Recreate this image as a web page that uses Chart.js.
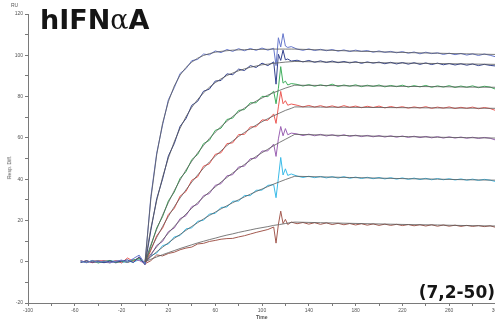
<!DOCTYPE html>
<html>
<head>
<meta charset="utf-8">
<script src="https://cdn.jsdelivr.net/npm/chart.js@4.4.1/dist/chart.umd.min.js"></script>
<style>
  html, body { margin: 0; padding: 0; overflow: hidden; background: #fff; }
  #wrap { position: absolute; left: 0; top: 0; width: 510px; height: 325px; }
  .lbl { position: absolute; white-space: nowrap; line-height: 1; }
  .small { font-family: 'Liberation Sans', Arial, sans-serif; font-size: 5px; color: #555; }
  .big { font-family: 'DejaVu Sans', Verdana, sans-serif; font-weight: bold; color: #151515; }
</style>
</head>
<body>
<div id="wrap"><canvas id="chart"></canvas></div>
<div class="lbl big" style="left:40px; top:6px; font-size:27px;">hIFN<span style="font-family:'DejaVu Serif', serif; font-weight:normal;">α</span>A</div>
<div class="lbl big" style="right:0px; top:284px; font-size:17px;">(7,2-50)</div>
<div class="lbl small" style="left:11px; top:3px;">RU</div>
<div class="lbl small" style="left:-2px; top:165px; transform:rotate(-90deg);">Resp. Diff.</div>
<div class="lbl small" style="left:256px; top:315px; font-weight:bold;">Time</div>
<script>
// sensorgram samples (s)
const times = [-55, -50, -45, -40, -35, -30, -25, -20, -15, -10, -5, 0,
  5, 10, 15, 20, 25, 30, 35, 40, 45, 50, 55, 60, 65, 70, 75, 80, 85, 90, 95, 100, 105, 110,
  112, 114, 116, 118, 120, 122, 125,
  130, 135, 140, 145, 150, 155, 160, 165, 170, 175, 180, 185, 190, 195, 200, 205, 210, 215,
  220, 225, 230, 235, 240, 245, 250, 255, 260, 265, 270, 275, 280, 285, 290, 295, 300];

const respA = [0.3, -0.5, 0.6, -0.2, 0.4, -0.6, 0.2, 0.8, -0.3, 1.5, 3.2, -1.0,
  31.5, 52.6, 66.2, 78.5, 84.3, 91.2, 93.5, 97.4, 98.0, 100.6, 100.2, 102.1, 101.3, 102.8, 101.9, 103.2, 102.2, 103.3, 102.4, 103.5, 102.5, 103.4,
  95.0, 108.5, 104.0, 110.5, 104.5, 103.8, 104.2,
  103.0, 102.4, 103.1, 102.3, 102.9, 102.2, 102.8, 102.0, 102.6, 101.8, 102.5, 101.9, 102.3, 101.5, 102.1, 101.4, 101.9, 101.2,
  101.8, 101.0, 101.6, 100.7, 101.5, 100.8, 101.2, 100.4, 101.0, 100.3, 100.9, 100.1, 100.7, 99.9, 100.6, 100.0, 99.2];
const respB = [-0.4, 0.5, -0.3, 0.2, -0.5, 0.4, -0.2, 0.3, 0.9, -0.4, 2.4, -1.5,
  15.2, 30.5, 40.0, 51.3, 57.2, 65.6, 69.3, 75.8, 77.7, 82.6, 83.6, 87.5, 87.8, 91.0, 90.6, 93.3, 92.6, 95.0, 94.1, 96.2, 95.0, 96.8,
  86.0, 100.5, 97.5, 102.5, 97.8, 98.2, 97.2,
  97.6, 96.8, 97.5, 96.6, 97.3, 96.5, 97.2, 96.4, 97.0, 96.3, 96.9, 96.1, 96.8, 96.2, 96.7, 95.9, 96.6, 95.8,
  96.5, 95.7, 96.4, 95.6, 96.3, 95.5, 96.2, 95.4, 96.0, 95.3, 95.9, 95.2, 95.8, 95.0, 95.6, 95.1, 94.8];
const respC = [0.2, -0.3, 0.5, -0.6, 0.1, 0.6, -0.4, 0.2, -0.2, 0.8, 1.5, -0.8,
  7.5, 16.4, 21.8, 29.5, 33.7, 40.4, 43.6, 49.5, 51.9, 57.2, 58.8, 63.6, 64.7, 68.9, 69.6, 73.3, 73.7, 77.0, 77.0, 80.1, 80.0, 82.6,
  76.5, 84.0, 94.5, 86.5, 87.5, 85.6, 86.3,
  85.9, 85.1, 85.8, 85.0, 85.7, 85.1, 86.0, 84.9, 85.6, 85.0, 85.7, 84.8, 85.5, 84.9, 85.6, 84.7, 85.4, 84.8,
  85.5, 84.6, 85.3, 84.7, 85.4, 84.5, 85.2, 84.6, 85.3, 84.4, 85.1, 84.5, 85.2, 84.3, 85.0, 84.6, 83.5];
const respD = [-0.2, 0.4, -0.5, 0.3, 0.6, -0.3, 0.5, -0.6, 1.8, 0.2, 2.0, -1.2,
  5.5, 12.6, 16.2, 22.9, 25.8, 31.8, 34.0, 39.5, 41.1, 46.3, 47.4, 52.0, 52.8, 57.2, 57.6, 61.6, 61.7, 65.3, 65.4, 68.7, 68.5, 71.6,
  67.0, 75.0, 82.5, 76.5, 78.0, 75.8, 76.4,
  75.8, 75.0, 75.7, 74.9, 75.6, 74.8, 75.5, 74.7, 75.6, 74.8, 75.4, 74.6, 75.3, 74.7, 75.4, 74.5, 75.2, 74.6,
  75.1, 74.4, 75.0, 74.5, 75.1, 74.3, 74.9, 74.4, 75.0, 74.2, 74.8, 74.3, 74.9, 74.1, 74.7, 74.2, 73.2];
const respE = [0.4, -0.2, 0.3, -0.5, 0.2, 0.5, -0.6, 0.4, -0.1, 1.2, 0.6, -0.9,
  3.0, 7.9, 9.8, 14.6, 16.3, 20.9, 22.3, 26.7, 27.8, 32.0, 33.0, 37.0, 37.8, 41.6, 42.2, 45.9, 46.3, 49.9, 50.2, 53.6, 53.7, 57.0,
  51.0, 59.5, 65.5, 61.0, 64.5, 61.5, 62.3,
  61.9, 61.1, 61.8, 61.0, 61.7, 60.9, 61.5, 60.8, 61.5, 60.7, 61.3, 60.6, 61.2, 60.5, 61.1, 60.4, 61.0, 60.3,
  60.9, 60.2, 60.8, 60.1, 60.7, 60.0, 60.6, 59.9, 60.5, 59.9, 60.4, 59.8, 60.3, 59.7, 60.2, 59.8, 58.9];
const respF = [-0.3, 0.3, -0.4, 0.5, -0.2, 0.2, 0.4, -0.5, 0.3, -0.2, 1.0, -0.6,
  2.9, 4.2, 7.8, 8.6, 12.0, 12.7, 15.9, 16.4, 19.6, 20.1, 23.1, 23.4, 26.3, 26.5, 29.3, 29.4, 32.1, 32.0, 34.6, 34.7, 37.0, 37.3,
  31.0, 40.5, 50.5, 42.0, 45.0, 41.8, 42.5,
  41.5, 40.8, 41.4, 40.7, 41.3, 40.6, 41.2, 40.5, 41.2, 40.4, 41.0, 40.3, 40.9, 40.2, 40.8, 40.1, 40.7, 40.0,
  40.6, 39.9, 40.5, 39.8, 40.4, 39.7, 40.3, 39.7, 40.2, 39.6, 40.1, 39.5, 40.0, 39.4, 39.9, 39.5, 38.8];
const respG = [0.5, -0.4, 0.2, 0.6, -0.3, -0.5, 0.3, 0.5, -0.4, 0.6, 1.8, -1.0,
  0.5, 3.3, 2.8, 4.0, 4.6, 5.8, 6.6, 7.1, 8.6, 8.9, 9.8, 10.3, 10.9, 11.2, 11.3, 12.0, 12.6, 13.4, 14.2, 14.9, 15.6, 16.8,
  9.0, 18.0, 24.5, 18.5, 20.5, 18.0, 19.2,
  18.4, 19.0, 18.2, 18.9, 18.1, 18.8, 18.0, 18.6, 17.9, 18.5, 17.8, 18.4, 17.7, 18.3, 17.6, 18.2, 17.6, 18.1,
  17.5, 18.0, 17.4, 17.9, 17.3, 17.9, 17.2, 17.8, 17.2, 17.7, 17.1, 17.6, 17.1, 17.5, 17.0, 17.4, 16.6];

// fitted 1:1 curves
const fitTimes = [0, 5, 10, 15, 20, 25, 30, 35, 40, 45, 50, 55, 60, 65, 70, 75, 80, 85, 90, 95,
  100, 105, 110, 115, 120, 125, 128, 150, 175, 200, 225, 250, 275, 300];
const fitA = [0, 30.4, 51.8, 67.0, 77.6, 85.1, 90.4, 94.1, 96.7, 98.6, 99.9, 100.8, 101.5, 101.9, 102.2, 102.5, 102.6, 102.7, 102.8, 102.8,
  102.9, 102.9, 103.0, 103.0, 103.0, 103.0, 103.0, 102.6, 102.1, 101.7, 101.3, 101.0, 100.7, 100.4];
const fitB = [0, 16.2, 29.6, 40.9, 50.3, 58.1, 64.7, 70.2, 74.8, 78.6, 81.8, 84.5, 86.7, 88.6, 90.2, 91.4, 92.5, 93.4, 94.2, 94.8,
  95.4, 95.7, 96.1, 96.4, 96.7, 96.9, 97.0, 96.8, 96.6, 96.4, 96.2, 96.0, 95.8, 95.6];
const fitC = [0, 8.2, 15.7, 22.5, 28.7, 34.4, 39.6, 44.4, 48.7, 52.7, 56.3, 59.7, 62.7, 65.5, 68.0, 70.4, 72.5, 74.4, 76.2, 77.8,
  79.3, 80.7, 81.9, 83.0, 84.1, 85.0, 85.5, 85.4, 85.2, 85.1, 84.9, 84.8, 84.6, 84.5];
const fitD = [0, 6.1, 11.8, 17.0, 22.0, 26.6, 30.9, 34.8, 38.6, 42.0, 45.3, 48.3, 51.1, 53.7, 56.3, 58.5, 60.7, 62.6, 64.4, 66.2,
  67.8, 69.3, 70.7, 72.0, 73.3, 74.3, 75.0, 74.9, 74.8, 74.7, 74.6, 74.5, 74.4, 74.3];
const fitE = [0, 3.7, 7.2, 10.6, 13.9, 17.1, 20.1, 23.1, 25.9, 28.6, 31.3, 33.8, 36.2, 38.6, 40.8, 43.0, 45.1, 47.1, 49.1, 51.0,
  52.8, 54.5, 56.2, 57.8, 59.3, 60.8, 61.7, 61.4, 61.1, 60.8, 60.6, 60.3, 60.1, 59.9];
const fitF = [0, 2.4, 4.8, 7.0, 9.2, 11.3, 13.2, 15.2, 17.1, 18.9, 20.7, 22.4, 24.0, 25.6, 27.1, 28.6, 30.0, 31.4, 32.7, 34.0,
  35.2, 36.4, 37.6, 38.7, 39.8, 40.8, 41.4, 41.1, 40.8, 40.5, 40.2, 40.0, 39.7, 39.5];
const fitG = [0, 1.2, 2.3, 3.4, 4.4, 5.4, 6.4, 7.3, 8.2, 9.1, 9.9, 10.7, 11.4, 12.2, 12.9, 13.5, 14.2, 14.8, 15.4, 16.0,
  16.5, 17.0, 17.6, 18.0, 18.5, 19.0, 19.2, 18.9, 18.6, 18.3, 18.0, 17.8, 17.5, 17.3];

const xTicks = [-100, -60, -20, 20, 60, 100, 140, 180, 220, 260, 300];
const yTicks = [-20, 0, 20, 40, 60, 80, 100, 120];

const series = [
  { values: respA, fit: fitA, color: '#6677cc' },
  { values: respB, fit: fitB, color: '#34438f' },
  { values: respC, fit: fitC, color: '#3fae5c' },
  { values: respD, fit: fitD, color: '#ec5a55' },
  { values: respE, fit: fitE, color: '#9b62b3' },
  { values: respF, fit: fitF, color: '#3bbbe8' },
  { values: respG, fit: fitG, color: '#a35a50' },
];

const toPoints = (xs, ys) => xs.map((x, i) => ({ x, y: ys[i] }));

const datasets = [];
series.forEach((s) => {
  datasets.push({
    data: toPoints(fitTimes, s.fit),
    borderColor: '#5a5a5a',
    borderWidth: 0.8,
    order: 0,
  });
  datasets.push({
    data: toPoints(times, s.values),
    borderColor: s.color,
    borderWidth: 1,
    order: 1,
  });
});
datasets.forEach((d) => {
  d.showLine = true;
  d.pointRadius = 0;
  d.tension = 0;
  d.fill = false;
});

const axisColor = '#7a7a7a';
const tickFont = { family: 'Liberation Sans, Arial, sans-serif', size: 5 };

new Chart(document.getElementById('chart'), {
  type: 'scatter',
  data: { datasets },
  options: {
    responsive: true,
    maintainAspectRatio: false,
    animation: false,
    layout: { autoPadding: false, padding: { top: 14, right: 14, left: 0, bottom: 0 } },
    plugins: { legend: { display: false }, tooltip: { enabled: false } },
    scales: {
      x: {
        type: 'linear',
        min: -100,
        max: 300,
        afterFit: (scale) => { scale.height = 22; },
        afterBuildTicks: (scale) => {
          const ticks = [];
          for (let v = -100; v <= 300; v += 20) ticks.push({ value: v });
          scale.ticks = ticks;
        },
        grid: { drawOnChartArea: false, drawTicks: true, tickLength: 3, color: axisColor },
        border: { display: true, color: axisColor, width: 1 },
        ticks: {
          autoSkip: false,
          maxRotation: 0,
          padding: 2,
          color: '#555',
          font: tickFont,
          callback: (v) => (xTicks.includes(v) ? String(v) : ''),
        },
      },
      y: {
        min: -20,
        max: 120,
        afterFit: (scale) => { scale.width = 28; },
        afterBuildTicks: (scale) => {
          const ticks = [];
          for (let v = -20; v <= 120; v += 10) ticks.push({ value: v });
          scale.ticks = ticks;
        },
        grid: { drawOnChartArea: false, drawTicks: true, tickLength: 3, color: axisColor },
        border: { display: true, color: axisColor, width: 1 },
        ticks: {
          autoSkip: false,
          padding: 2,
          color: '#555',
          font: tickFont,
          callback: (v) => (yTicks.includes(v) ? String(v) : ''),
        },
      },
    },
  },
});
</script>
</body>
</html>
